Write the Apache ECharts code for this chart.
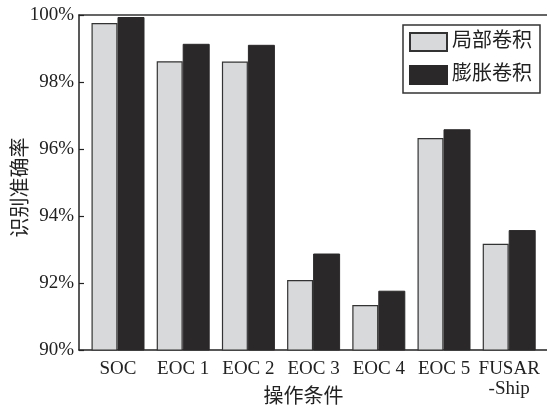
<!DOCTYPE html>
<html>
<head>
<meta charset="utf-8">
<style>
  html, body { margin: 0; padding: 0; background: #fff; }
  #chart { width: 547px; height: 410px; }
</style>
<script src="https://cdn.jsdelivr.net/npm/echarts@6/dist/echarts.min.js"></script>
</head>
<body>
<div id="chart"></div>
<script>
// Recognition accuracy (%) per operating condition
const categories = ['SOC', 'EOC 1', 'EOC 2', 'EOC 3', 'EOC 4', 'EOC 5', 'FUSAR\n-Ship'];
const localConv = [99.76, 98.62, 98.61, 92.09, 91.34, 96.33, 93.17];
const dilatedConv = [99.94, 99.14, 99.11, 92.88, 91.77, 96.59, 93.58];
const seriesNames = ['局部卷积', '膨胀卷积'];
const yTicks = { min: 90, max: 100, step: 2 };

const FONT = '"Liberation Serif", "Times New Roman", "Noto Sans CJK SC", serif';
const TEXT = '#222';

const chart = echarts.init(document.getElementById('chart'), null, { renderer: 'canvas' });

chart.setOption({
  animation: false,
  backgroundColor: '#fff',
  textStyle: { fontFamily: FONT },
  grid: [
    { left: 85.4, right: 5.2, top: 15, bottom: 60, containLabel: false, outerBoundsMode: 'none' },
    // frame lines running across the full width
    { left: 79, right: -10, top: 15, bottom: 60, containLabel: false, outerBoundsMode: 'none' }
  ],
  legend: {
    orient: 'vertical',
    left: 403,
    top: 25,
    padding: [7, 8, 8, 6],
    itemWidth: 37,
    itemHeight: 18,
    itemGap: 13,
    icon: 'rect',
    borderColor: '#333',
    borderWidth: 1.5,
    textStyle: { fontSize: 20, color: TEXT, fontFamily: FONT },
    data: seriesNames
  },
  xAxis: [
    {
      type: 'category',
      gridIndex: 0,
      data: categories,
      axisLine: { show: false },
      axisTick: { show: false },
      axisLabel: { fontSize: 19, color: TEXT, margin: 9, lineHeight: 20, fontFamily: FONT, interval: 0 },
      name: '操作条件',
      nameLocation: 'middle',
      nameMoveOverlap: false,
      nameGap: 38,
      nameTextStyle: { fontSize: 20, color: TEXT, padding: [0, 20, 0, 0], fontFamily: FONT }
    },
    {
      type: 'value', gridIndex: 1, position: 'bottom',
      axisLine: { show: true, lineStyle: { color: '#222', width: 1.5 } },
      axisTick: { show: false }, axisLabel: { show: false }, splitLine: { show: false }
    },
    {
      type: 'value', gridIndex: 1, position: 'top',
      axisLine: { show: true, lineStyle: { color: '#333', width: 1.5 } },
      axisTick: { show: false }, axisLabel: { show: false }, splitLine: { show: false }
    }
  ],
  yAxis: [
    {
      type: 'value',
      gridIndex: 0,
      min: yTicks.min,
      max: yTicks.max,
      interval: yTicks.step,
      offset: 6.4,
      axisLine: { show: true, lineStyle: { color: '#222', width: 1.5 } },
      axisTick: { show: true, inside: true, length: 5, lineStyle: { color: '#222', width: 1.2 } },
      splitLine: { show: false },
      axisLabel: { formatter: '{value}%', fontSize: 19, color: TEXT, margin: 5, fontFamily: FONT },
      name: '识别准确率',
      nameLocation: 'middle',
      nameMoveOverlap: false,
      nameGap: 47,
      nameTextStyle: { fontSize: 20, color: TEXT, padding: [0, 10, 0, 0], fontFamily: FONT }
    },
    { type: 'value', gridIndex: 1, show: false }
  ],
  series: [
    {
      name: seriesNames[0],
      type: 'bar',
      xAxisIndex: 0,
      yAxisIndex: 0,
      data: localConv,
      barWidth: 26,
      barGap: '0%',
      itemStyle: { color: '#d8d9db', borderColor: '#333', borderWidth: 1.2 }
    },
    {
      name: seriesNames[1],
      type: 'bar',
      xAxisIndex: 0,
      yAxisIndex: 0,
      data: dilatedConv,
      barWidth: 27,
      barGap: '0%',
      itemStyle: { color: '#2b2829', borderColor: '#2b2829', borderWidth: 1 }
    }
  ]
});
</script>
</body>
</html>
